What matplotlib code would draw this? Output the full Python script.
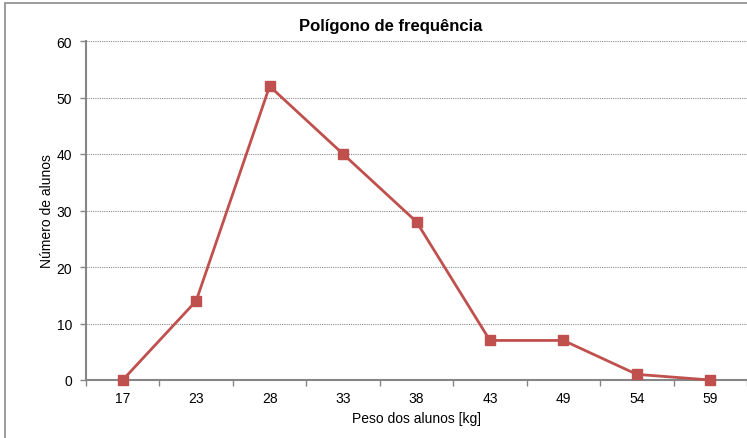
import matplotlib
matplotlib.use("Agg")
import matplotlib.pyplot as plt
import numpy as np
from matplotlib.patches import Rectangle

categories = ["17", "23", "28", "33", "38", "43", "49", "54", "59"]
values = [0, 14, 52, 40, 28, 7, 7, 1, 0]
y_ticks = [0, 10, 20, 30, 40, 50, 60]

plt.rcParams['font.family'] = ['Liberation Sans', 'DejaVu Sans']

W, H = 747, 439
fig = plt.figure(figsize=(W/100, H/100), dpi=100)
ax = fig.add_axes([86/W, (H-381)/H, (747-86)/W, (381-42)/H])

# figure border (Excel chart area)
fig.patches.append(Rectangle((5/W, -0.1), 1.2, (H-4)/H + 0.1, transform=fig.transFigure,
                             fill=False, edgecolor='#8c8c8c', linewidth=1.2))

x = np.arange(len(categories))
color = '#C0504D'
ax.plot(x, values, color=color, linewidth=2.0, marker='s', markersize=7,
        markerfacecolor=color, markeredgecolor=color, zorder=3, clip_on=False)

ax.set_xlim(-0.5, len(categories) - 0.5)
ax.set_ylim(0, 60)
ax.set_yticks(y_ticks)
ax.set_xticks(x)
ax.set_xticklabels(categories)
ax.set_xticks(np.arange(-0.5, len(categories)), minor=True)
ax.tick_params(axis='x', which='major', length=0, pad=8, labelsize=10)
ax.tick_params(axis='x', which='minor', length=4, color='#868686', width=1)
ax.tick_params(axis='y', which='major', length=4, color='#868686', width=1, pad=6, labelsize=10)

ax.grid(axis='y', linestyle=(0, (1, 1)), color='#8c8c8c', linewidth=0.8)
ax.set_axisbelow(True)
for s in ['top', 'right']:
    ax.spines[s].set_visible(False)
for s in ['left', 'bottom']:
    ax.spines[s].set_color('#868686')
    ax.spines[s].set_linewidth(1.5)

fig.text(391/W, 1 - 27/H, "Polígono de frequência", ha='center', va='center',
         fontsize=12, fontweight='bold')
fig.text(416/W, 1 - 419/H, "Peso dos alunos [kg]", ha='center', va='center', fontsize=10)
fig.text(47/W, 1 - 211/H, "Número de alunos", ha='center', va='center', fontsize=10, rotation=90)

fig.savefig("out.png", dpi=100)
